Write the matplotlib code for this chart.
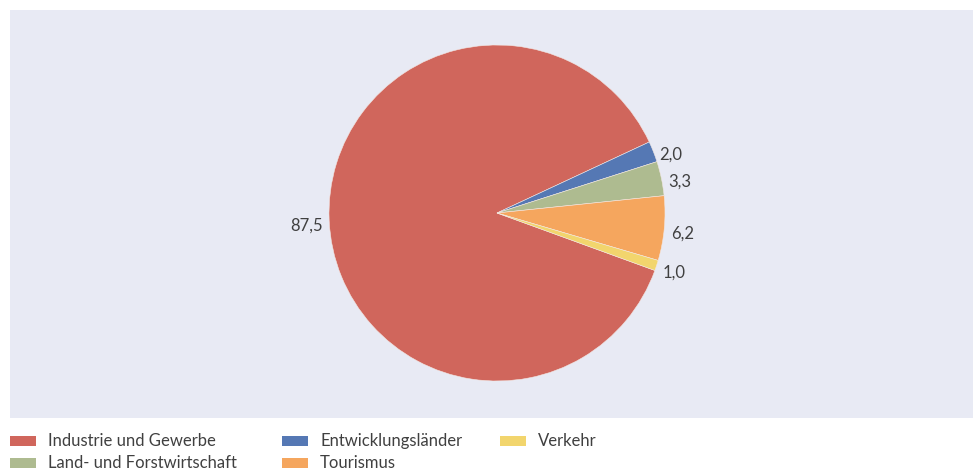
import matplotlib
matplotlib.use("Agg")
import matplotlib.pyplot as plt
from matplotlib.patches import Rectangle
from matplotlib.transforms import offset_copy

categories = ["Industrie und Gewerbe", "Entwicklungsländer", "Land- und Forstwirtschaft", "Tourismus", "Verkehr"]
values = [87.5, 2.0, 3.3, 6.2, 1.0]
labels = ["87,5", "2,0", "3,3", "6,2", "1,0"]
colors = ["#D0665C", "#5578B4", "#AEBB90", "#F5A65E", "#F2D56D"]

plt.rcParams['font.family'] = ['Lato', 'DejaVu Sans']
TXT = "#404040"

W, H = 973, 472
fig = plt.figure(figsize=(W / 100, H / 100), dpi=100)
fig.patch.set_facecolor("white")

px_l, px_t, px_r, px_b = 10, 10, 973, 418
fig.patches.append(Rectangle((px_l / W, 1 - px_b / H), (px_r - px_l) / W, (px_b - px_t) / H,
                             transform=fig.transFigure, facecolor="#E8EAF4",
                             edgecolor="none", zorder=-5))
ax = fig.add_axes([px_l / W, 1 - px_b / H, (px_r - px_l) / W, (px_b - px_t) / H])
ax.set_zorder(1)

wedges, texts = ax.pie(values, colors=colors, labels=labels, startangle=-20,
                       counterclock=False, labeldistance=1.04,
                       wedgeprops=dict(edgecolor="#F3E8E4", linewidth=0.4),
                       textprops=dict(fontsize=12, color=TXT))
for t in texts:
    t.set_transform(offset_copy(ax.transData, fig=fig, x=0, y=-5, units="dots"))

scale = 168.0
cx, cy = 497 - px_l, 213 - px_t
ax.set_xlim(-cx / scale, (px_r - px_l - cx) / scale)
ax.set_ylim(-(px_b - px_t - cy) / scale, cy / scale)
ax.set_aspect("auto")
ax.set_axis_off()

# legend (column-major like the reference)
order = [0, 2, 1, 3, 4]
col_x = [10, 282, 500]
row_y = [441, 463]
for k, i in enumerate(order):
    c, r = k // 2, k % 2
    x, y = col_x[c], row_y[r]
    fig.patches.append(Rectangle((x / W, 1 - (y + 5) / H), 26 / W, 10 / H,
                                 transform=fig.transFigure, facecolor=colors[i],
                                 edgecolor="none"))
    fig.text((x + 38) / W, 1 - y / H, categories[i], ha="left", va="center",
             fontsize=12, color=TXT)

fig.savefig("out.png", dpi=100)
